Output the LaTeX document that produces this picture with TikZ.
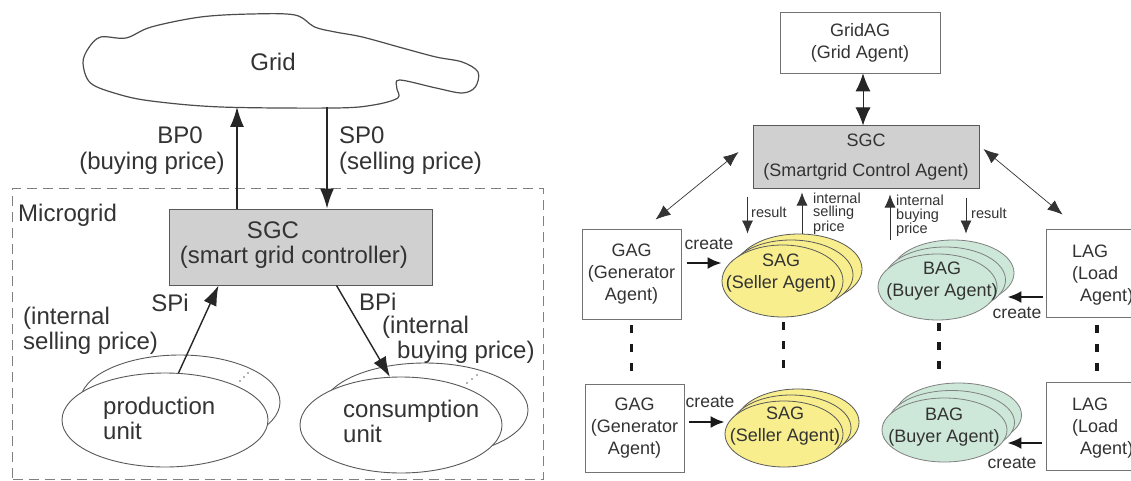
\documentclass[tikz,border=0pt]{standalone}
\usepackage{fontspec}
\setmainfont{Liberation Sans}
\usetikzlibrary{arrows.meta,shapes.geometric,calc}
\definecolor{txt}{HTML}{333333}
\definecolor{sgcfill}{HTML}{D0D0D0}
\definecolor{sagfill}{HTML}{F8EE8E}
\definecolor{bagfill}{HTML}{CDE8D9}
\begin{document}
\begin{tikzpicture}[x=1pt,y=-1pt,
  every node/.style={inner sep=0pt, text=txt},
  lbl/.style={font=\fontsize{24}{25}\selectfont},
  ag/.style={font=\fontsize{18}{22}\selectfont},
  sm/.style={font=\fontsize{14.5}{13.5}\selectfont},
  cr/.style={font=\fontsize{17.5}{20}\selectfont},
  bigarr/.style={draw=black!85, line width=1.4pt, -{Latex[length=20pt,width=14pt]}},
  dblarr/.style={draw=black!85, line width=0.9pt, {Latex[length=18pt,width=15pt]}-{Latex[length=18pt,width=15pt]}},
  diagarr/.style={draw=black!80, line width=0.7pt, {Latex[length=15pt,width=12pt]}-{Latex[length=15pt,width=12pt]}},
  resarr/.style={draw=black!80, line width=0.7pt, -{Latex[length=13pt,width=11pt]}},
  crarr/.style={draw=black!90, line width=2.4pt, -{Latex[length=14pt,width=12pt]}},
  vdots/.style={draw=black!90, line width=3.5pt, dash pattern=on 8pt off 11pt},
  dashbox/.style={draw=black!50, line width=1pt, dash pattern=on 10pt off 6pt, rectangle},
  sgcbox/.style={draw=black!65, line width=1pt, fill=sgcfill, rectangle},
  agbox/.style={draw=black!55, line width=0.8pt, fill=white, rectangle, align=center, ag},
  uell/.style={ellipse, draw=black!65, line width=0.9pt, fill=white},
  sagE/.style={ellipse, draw=black!65, line width=0.8pt, fill=sagfill},
  bagE/.style={ellipse, draw=black!50, line width=0.8pt, fill=bagfill},
]
\useasboundingbox (0,0) rectangle (1131,481);
\fill[white] (0,0) rectangle (1131,481);

% ---------------- left panel ----------------
\draw[line width=1.2pt, draw=black!70, fill=white] plot[smooth cycle, tension=0.55] coordinates {(83,63) (88.6,48) (100.7,37) (126,38) (151.2,27) (200.7,17) (251.1,14) (295,15) (314.6,27) (335.2,32) (362.3,37) (402.4,48) (436,57) (462.2,62) (478,72) (475.3,87) (462.2,93) (436,88) (399.6,80) (396.8,88) (397.8,98) (373.5,105) (335.2,108) (221,107) (151.2,101) (117.6,94) (90.5,83)};
\node[lbl] (grid) at (273,62) {Grid};
\coordinate (gbp) at (237,107);
\coordinate (gsp) at (327,107);

\node[dashbox, minimum width=530.5pt, minimum height=291pt] (mgrid) at (277.75,333.5) {};
\node[lbl, anchor=west] (mglbl) at (18,215) {Microgrid};

\node[sgcbox, minimum width=263pt, minimum height=76pt] (sgcL) at (300.5,247) {};
\node[lbl] (sgcLt1) at (273,230) {SGC};
\node[lbl] (sgcLt2) at (294,257) {(smart grid controller)};

\draw[bigarr] (sgcL.north -| gbp) -- (gbp);
\draw[bigarr] (gsp) -- (sgcL.north -| gsp);
\node[lbl] (bp0) at (180,135) {BP0};
\node[lbl] (bp0t) at (152,163) {(buying price)};
\node[lbl, anchor=west] (sp0) at (339,135) {SP0};
\node[lbl, anchor=west] (sp0t) at (339,163) {(selling price)};

\node[uell, minimum width=200pt, minimum height=94pt] (prodB) at (180,402) {};
\node[uell, minimum width=206pt, minimum height=94pt] (prodF) at (165,420) {};
\node[lbl, align=left, anchor=west] (prodt) at (103,418) {production\\unit};
\foreach \p in {(240,381),(244,377),(248,373)} \fill[black!60] \p circle (0.9);

\node[uell, minimum width=206pt, minimum height=94pt] (consB) at (425,410) {};
\node[uell, minimum width=202pt, minimum height=96pt] (consF) at (401,425) {};
\node[lbl, align=left, anchor=west] (const) at (343,421) {consumption\\unit};
\foreach \p in {(467,383),(472,379),(477,375)} \fill[black!60] \p circle (0.9);

\draw[bigarr] (prodF.74) -- ([xshift=50pt]sgcL.south west);
\draw[bigarr] ([xshift=168pt]sgcL.south west) -- (consF.103);
\node[lbl] (spi) at (170,303) {SPi};
\node[lbl, align=left, anchor=west] (spit) at (23,331) {(internal\\selling price)};
\node[lbl, anchor=west] (bpi) at (359,302) {BPi};
\node[lbl, align=left, anchor=west] (bpit) at (382,339.5) {(internal\\\hspace*{15pt}buying price)};

% ---------------- right panel ----------------
\node[agbox, minimum width=160pt, minimum height=61pt] (gridag) at (860,42.5) {GridAG\\(Grid Agent)};
\node[sgcbox, align=center, ag, minimum width=226pt, minimum height=62pt] (sgcR) at (866,157) {SGC\\[8pt](Smartgrid Control Agent)};
\draw[dblarr] ([xshift=3pt]gridag.south) -- ([xshift=3pt]gridag.south |- sgcR.north);

\node[agbox, minimum width=99pt, minimum height=90pt] (gagT) at (631.5,274) {GAG\\(Generator\\Agent)};
\node[agbox, minimum width=94pt, minimum height=88pt] (lagT) at (1093,273) {};
\node[ag, align=left, anchor=west] (lagTt) at (1072,275) {LAG\\(Load\\\hspace*{8pt}Agent)};
\node[agbox, minimum width=99pt, minimum height=88pt] (gagB) at (634.5,428) {GAG\\(Generator\\Agent)};
\node[agbox, minimum width=94pt, minimum height=88pt] (lagB) at (1093,426) {};
\node[ag, align=left, anchor=west] (lagBt) at (1072,428) {LAG\\(Load\\\hspace*{8pt}Agent)};

\draw[diagarr] ($(sgcR.west)+(-14,-5)$) -- ($(gagT.north)+(24,-9)$);
\draw[diagarr] ($(sgcR.east)+(4,-8)$) -- ($(lagT.north west)+(17,-14)$);

% seller agents (top)
\node[sagE, minimum width=126pt, minimum height=70pt] (sagT3) at (799,269) {};
\node[sagE, minimum width=124pt, minimum height=70pt] (sagT2) at (791,275) {};
\node[sagE, minimum width=121pt, minimum height=72pt] (sagT1) at (782.5,281) {};
\node[ag, align=center] (sagTt) at (781,273) {SAG\\(Seller Agent)};
% buyer agents (top)
\node[bagE, minimum width=122pt, minimum height=66pt] (bagT3) at (953,273) {};
\node[bagE, minimum width=121pt, minimum height=66pt] (bagT2) at (945,280) {};
\node[bagE, minimum width=119pt, minimum height=66pt] (bagT1) at (937.5,287) {};
\node[ag, align=center] (bagTt) at (942,281) {BAG\\(Buyer Agent)};
% seller agents (bottom)
\node[sagE, minimum width=122pt, minimum height=66pt] (sagB3) at (798,422) {};
\node[sagE, minimum width=120pt, minimum height=66pt] (sagB2) at (791,428) {};
\node[sagE, minimum width=118pt, minimum height=66pt] (sagB1) at (784,434) {};
\node[ag, align=center] (sagBt) at (785,426.5) {SAG\\(Seller Agent)};
% buyer agents (bottom)
\node[bagE, minimum width=126pt, minimum height=64pt] (bagB3) at (958.5,415) {};
\node[bagE, minimum width=126pt, minimum height=64pt] (bagB2) at (951.5,422.5) {};
\node[bagE, minimum width=125pt, minimum height=64pt] (bagB1) at (944.5,430) {};
\node[ag, align=center] (bagBt) at (944,427.5) {BAG\\(Buyer Agent)};

% result / internal price arrows
\draw[resarr] ([xshift=-5pt,yshift=-8pt]sgcR.south west) -- ([xshift=-5pt]sgcR.south west |- sagT3.north);
\node[sm, anchor=west] (res1) at (751,212) {result};
\draw[resarr] ([xshift=3pt]sagT3.north) -- ([xshift=3pt,yshift=-4pt]sagT3.north |- sgcR.south);
\node[sm, align=left, anchor=west] (isp) at (813,213.5) {internal\\selling\\price};
\draw[resarr] ([xshift=-63pt]bagT3.north) -- ([xshift=-63pt,yshift=-6pt]bagT3.north |- sgcR.south);
\node[sm, align=left, anchor=west] (ibp) at (896,216) {internal\\buying\\price};
\draw[resarr] ([xshift=13pt,yshift=-9pt]bagT3.north |- sgcR.south) -- ([xshift=13pt,yshift=6pt]bagT3.north);
\node[sm, anchor=west] (res2) at (971,213) {result};

% create arrows
\draw[crarr] ([yshift=11pt,xshift=6pt]gagT.east) -- ([yshift=11pt]gagT.east -| sagT1.west);
\node[cr] (cr1) at (709,244) {create};
\draw[crarr, shorten >=10pt] ([yshift=-24pt,xshift=-3pt]lagT.west) -- ([yshift=-24pt]lagT.west -| bagT1.east);
\node[cr] (cr2) at (1017,313) {create};
\draw[crarr] ([yshift=6pt,xshift=5pt]gagB.east) -- ([yshift=6pt]gagB.east -| sagB1.west);
\node[cr] (cr3) at (710,402) {create};
\draw[crarr] ([yshift=-17pt,xshift=-4pt]lagB.west) -- ([yshift=-17pt]lagB.west -| bagB1.east);
\node[cr] (cr4) at (1012,463) {create};

% vertical ellipsis dots
\draw[vdots] ([yshift=-6pt]gagT.south) -- ([yshift=9pt]gagT.south |- gagB.north);
\draw[vdots] ([xshift=1pt,yshift=-5pt]sagT1.south) -- ([xshift=1pt,yshift=19pt]sagT1.south |- sagB3.north);
\draw[vdots] ([xshift=1.5pt,yshift=-3pt]bagT1.south) -- ([xshift=1.5pt,yshift=13pt]bagT1.south |- bagB3.north);
\draw[vdots] ([xshift=4pt,yshift=-8pt]lagT.south) -- ([xshift=4pt,yshift=9pt]lagT.south |- lagB.north);
\end{tikzpicture}
\end{document}
